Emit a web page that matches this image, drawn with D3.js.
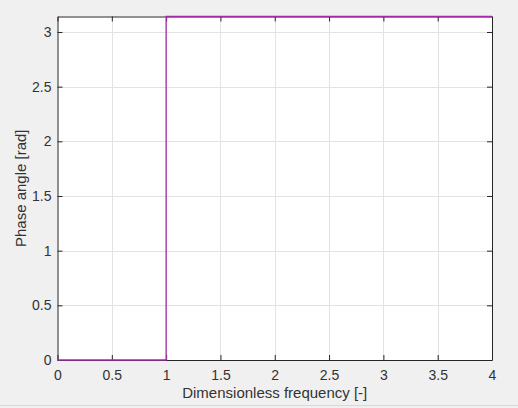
<!DOCTYPE html>
<html>
<head>
<meta charset="utf-8">
<script src="https://cdn.jsdelivr.net/npm/d3@7"></script>
<style>
  body { margin: 0; background: #f0f0f0; }
  svg { display: block; }
  .tick text { font-family: "Liberation Sans", Arial, sans-serif; font-size: 14px; fill: #333; }
</style>
</head>
<body>
<div id="chart"></div>
<script>
// step response of the phase angle
let freq = [0, 1, 1, 4];
let phase = [0, 0, Math.PI, Math.PI];
let xTicks = [0, 0.5, 1, 1.5, 2, 2.5, 3, 3.5, 4];
let yTicks = [0, 0.5, 1, 1.5, 2, 2.5, 3];
let xLabel = "Dimensionless frequency [-]";
let yLabel = "Phase angle [rad]";

let width = 518, height = 408;
let margin = { left: 57.5, top: 16.5, right: 26, bottom: 48 };

let svg = d3.select("#chart").append("svg")
  .attr("width", width)
  .attr("height", height);

svg.append("rect").attr("width", width).attr("height", height).attr("fill", "#f0f0f0");

let x = d3.scaleLinear().domain([0, 4]).range([margin.left, width - margin.right]);
let y = d3.scaleLinear().domain([0, Math.PI]).range([height - margin.bottom, margin.top]);

// plot area
svg.append("rect")
  .attr("x", x(0)).attr("y", y(Math.PI))
  .attr("width", x(4) - x(0)).attr("height", y(0) - y(Math.PI))
  .attr("fill", "#fff");

// grid
let grid = svg.append("g").attr("stroke", "#e3e3e3").attr("stroke-width", 1);
grid.selectAll(".gx").data(xTicks.slice(1, -1)).enter().append("line")
  .attr("x1", d => Math.round(x(d)) + 0.5).attr("x2", d => Math.round(x(d)) + 0.5)
  .attr("y1", y(0)).attr("y2", y(Math.PI));
grid.selectAll(".gy").data(yTicks.slice(1)).enter().append("line")
  .attr("y1", d => Math.round(y(d)) + 0.5).attr("y2", d => Math.round(y(d)) + 0.5)
  .attr("x1", x(0)).attr("x2", x(4));

// axes with inward ticks
let xAxis = svg.append("g")
  .attr("transform", "translate(0," + y(0) + ")")
  .call(d3.axisBottom(x).tickValues(xTicks).tickFormat(d3.format("")).tickSizeInner(-5).tickSizeOuter(0).tickPadding(10));
let xTop = svg.append("g")
  .attr("transform", "translate(0," + y(Math.PI) + ")")
  .call(d3.axisTop(x).tickValues(xTicks).tickFormat("").tickSizeInner(-5).tickSizeOuter(0));
let yAxis = svg.append("g")
  .attr("transform", "translate(" + x(0) + ",0)")
  .call(d3.axisLeft(y).tickValues(yTicks).tickFormat(d3.format("")).tickSizeInner(-5).tickSizeOuter(0).tickPadding(6));
let yRight = svg.append("g")
  .attr("transform", "translate(" + x(4) + ",0)")
  .call(d3.axisRight(y).tickValues(yTicks).tickFormat("").tickSizeInner(-5).tickSizeOuter(0));

[xAxis, xTop, yAxis, yRight].forEach(function(a) {
  a.selectAll("path.domain").attr("stroke", "#262626");
  a.selectAll(".tick line").attr("stroke", "#262626");
});

// data line
let line = d3.line().x((d, i) => x(freq[i])).y((d, i) => y(phase[i]));
svg.append("path")
  .datum(phase)
  .attr("d", line)
  .attr("fill", "none")
  .attr("stroke", "#a52aaa")
  .attr("stroke-width", 1.3);

// labels
svg.append("text")
  .attr("x", (x(0) + x(4)) / 2).attr("y", 398)
  .attr("text-anchor", "middle")
  .attr("font-family", "Liberation Sans, Arial, sans-serif")
  .attr("font-size", 15).attr("fill", "#333")
  .text(xLabel);

svg.append("text")
  .attr("transform", "translate(25.5," + (y(0) + y(Math.PI)) / 2 + ") rotate(-90)")
  .attr("text-anchor", "middle")
  .attr("font-family", "Liberation Sans, Arial, sans-serif")
  .attr("font-size", 15).attr("fill", "#333")
  .text(yLabel);

// window edge at the bottom
svg.append("line")
  .attr("x1", 0).attr("x2", width).attr("y1", 405.5).attr("y2", 405.5)
  .attr("stroke", "#d8d8d8");
</script>
</body>
</html>
